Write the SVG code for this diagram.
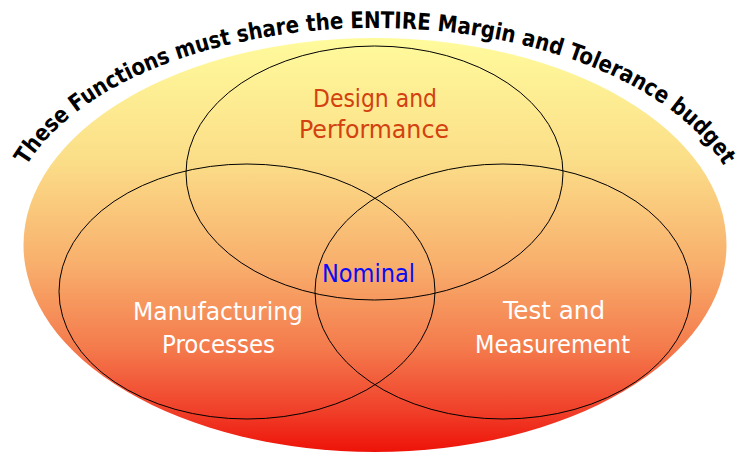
<svg xmlns="http://www.w3.org/2000/svg" xmlns:xlink="http://www.w3.org/1999/xlink" width="742" height="453" viewBox="0 0 742 453">
<defs>
<linearGradient id="bg" x1="0" y1="0" x2="0" y2="1">
<stop offset="0" stop-color="#fffb9c"/>
<stop offset="0.3" stop-color="#fbdd88"/>
<stop offset="0.55" stop-color="#f8ae6c"/>
<stop offset="0.75" stop-color="#f47a4c"/>
<stop offset="0.9" stop-color="#f0402a"/>
<stop offset="1" stop-color="#ee1208"/>
</linearGradient>
<path id="arc" d="M 15 188.5 A 368 202.6 0 0 1 735 188.5"/>
<style>
.ring{fill:none;stroke:#000;stroke-width:1}
.lbl{font-family:"DejaVu Sans Condensed","DejaVu Sans",sans-serif;font-stretch:condensed;font-size:25px;text-anchor:middle}
.title{font-family:"DejaVu Sans Condensed","DejaVu Sans",sans-serif;font-stretch:condensed;font-weight:bold;font-size:23px;fill:#000}
</style>
</defs>
<rect width="742" height="453" fill="#fff"/>
<g id="budget">
<ellipse cx="375" cy="245" rx="351.5" ry="207" fill="url(#bg)"/>
<text class="title"><textPath xlink:href="#arc" href="#arc" startOffset="50%" text-anchor="middle" textLength="778" lengthAdjust="spacingAndGlyphs">These Functions must share the ENTIRE Margin and Tolerance budget</textPath></text>
</g>
<g id="connectors"></g>
<g id="design">
<ellipse class="ring" cx="374.5" cy="173" rx="188.5" ry="127"/>
<text class="lbl" fill="#d2410f" x="375" y="107" textLength="124" lengthAdjust="spacingAndGlyphs">Design and</text>
<text class="lbl" fill="#d2410f" x="374" y="138" textLength="150" lengthAdjust="spacingAndGlyphs">Performance</text>
</g>
<g id="manufacturing">
<ellipse class="ring" cx="247" cy="291.5" rx="188" ry="127.5"/>
<text class="lbl" fill="#fff" x="218" y="320" textLength="170" lengthAdjust="spacingAndGlyphs">Manufacturing</text>
<text class="lbl" fill="#fff" x="218.5" y="353" textLength="113" lengthAdjust="spacingAndGlyphs">Processes</text>
</g>
<g id="test">
<ellipse class="ring" cx="503" cy="291.5" rx="188" ry="127.5"/>
<text class="lbl" fill="#fff" x="554" y="319" textLength="102" lengthAdjust="spacingAndGlyphs">Test and</text>
<text class="lbl" fill="#fff" x="552.5" y="353" textLength="155" lengthAdjust="spacingAndGlyphs">Measurement</text>
</g>
<g id="nominal">
<text class="lbl" fill="#0a0af5" x="368.5" y="282" textLength="93" lengthAdjust="spacingAndGlyphs">Nominal</text>
</g>
</svg>
